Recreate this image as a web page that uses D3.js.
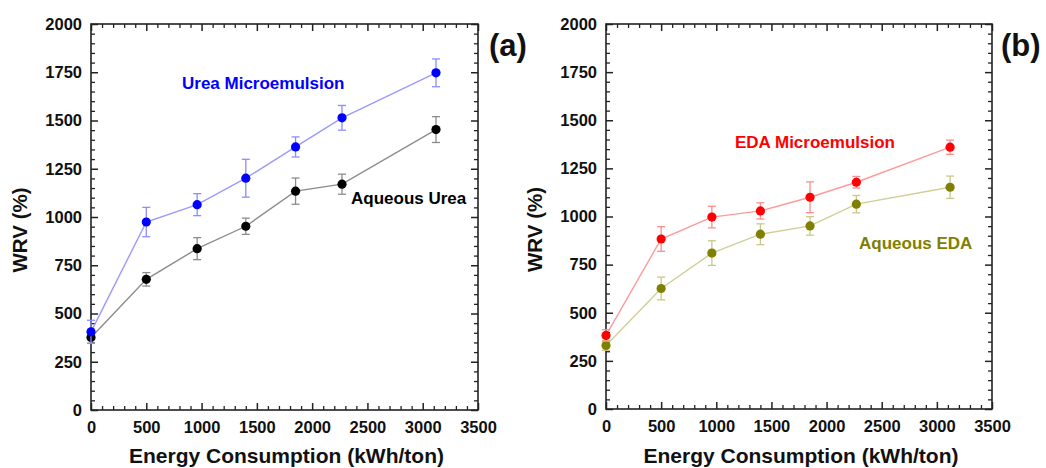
<!DOCTYPE html>
<html>
<head>
<meta charset="utf-8">
<script src="https://cdn.jsdelivr.net/npm/d3@7"></script>
<style>
  body { margin: 0; background: #fff; }
  svg { display: block; font-family: "Liberation Sans", Arial, sans-serif; font-weight: bold; }
</style>
</head>
<body>
<svg id="chart"></svg>
<script>
// energy consumption (kWh/ton) shared by all series
const energy = [0, 500, 960, 1400, 1850, 2270, 3120];

// panel (a) - urea
const ureaMicro = [405, 974, 1064, 1201, 1363, 1514, 1747];
const ureaMicroErr = [60, 76, 57, 98, 52, 64, 72];
const ureaAq = [376, 677, 836, 952, 1134, 1170, 1453];
const ureaAqErr = [30, 35, 57, 42, 68, 52, 67];

// panel (b) - EDA
const edaMicro = [382, 883, 997, 1029, 1100, 1178, 1360];
const edaMicroErr = [30, 64, 56, 42, 80, 30, 37];
const edaAq = [330, 626, 810, 908, 951, 1064, 1152];
const edaAqErr = [25, 59, 64, 54, 48, 45, 58];

const xTicks = [0, 500, 1000, 1500, 2000, 2500, 3000, 3500];
const yTicks = [0, 250, 500, 750, 1000, 1250, 1500, 1750, 2000];

const width = 1046, height = 468;

const svg = d3.select("#chart")
  .attr("width", width)
  .attr("height", height)
  .attr("viewBox", [0, 0, width, height]);

svg.append("rect").attr("width", width).attr("height", height).attr("fill", "#fff");

const panels = [
  {
    left: 91, right: 478, top: 24, bottom: 410, tag: "(a)", tagX: 489,
    series: [
      { name: "Aqueous Urea", y: ureaAq, err: ureaAqErr, dot: "#000000", line: "#8c8c8c", bar: "#8c8c8c", lx: 351, ly: 204 },
      { name: "Urea Microemulsion", y: ureaMicro, err: ureaMicroErr, dot: "#0000ff", line: "#9a9aff", bar: "#8c8cff", lx: 182, ly: 89 }
    ]
  },
  {
    left: 606, right: 992, top: 24, bottom: 409, tag: "(b)", tagX: 1001,
    series: [
      { name: "Aqueous EDA", y: edaAq, err: edaAqErr, dot: "#808000", line: "#cfcf96", bar: "#c8c88a", lx: 859, ly: 249, text: "#808000" },
      { name: "EDA Microemulsion", y: edaMicro, err: edaMicroErr, dot: "#ff0000", line: "#ff9a9a", bar: "#ff8c8c", lx: 735, ly: 148 }
    ]
  }
];

function range(a, b, step) {
  return d3.range(a, b + step / 2, step);
}

panels.forEach(p => {
  const x = d3.scaleLinear().domain([0, 3500]).range([p.left, p.right]);
  const y = d3.scaleLinear().domain([0, 2000]).range([p.bottom, p.top]);

  const xMinor = range(0, 3500, 100).filter(v => v % 500 !== 0);
  const yMinor = range(0, 2000, 50).filter(v => v % 250 !== 0);

  const g = svg.append("g");

  // inward ticks on all four sides
  const axes = [
    { gen: d3.axisBottom, t: `translate(0,${p.bottom})`, s: x, lab: true },
    { gen: d3.axisTop, t: `translate(0,${p.top})`, s: x, lab: false },
    { gen: d3.axisLeft, t: `translate(${p.left},0)`, s: y, lab: true },
    { gen: d3.axisRight, t: `translate(${p.right},0)`, s: y, lab: false }
  ];
  axes.forEach(a => {
    const isX = a.s === x;
    g.append("g")
      .attr("transform", a.t)
      .call(a.gen(a.s).tickValues(isX ? xMinor : yMinor).tickSize(-4).tickFormat(""))
      .call(s => s.select(".domain").remove())
      .call(s => s.selectAll("line").attr("stroke", "#222").attr("stroke-width", 1.3));
    g.append("g")
      .attr("transform", a.t)
      .call(a.gen(a.s).tickValues(isX ? xTicks : yTicks).tickSize(-7)
        .tickPadding(isX ? 11 : 9)
        .tickFormat(a.lab ? d3.format("d") : ""))
      .call(s => s.select(".domain").remove())
      .call(s => s.selectAll("line").attr("stroke", "#222").attr("stroke-width", 1.5))
      .call(s => s.selectAll("text")
        .attr("fill", "#111")
        .attr("font-size", 16.5)
        .attr("font-family", "Liberation Sans, Arial, sans-serif")
        .attr("font-weight", "bold"));
  });

  // frame
  g.append("rect")
    .attr("x", p.left).attr("y", p.top)
    .attr("width", p.right - p.left).attr("height", p.bottom - p.top)
    .attr("fill", "none").attr("stroke", "#222").attr("stroke-width", 1.6);

  const line = d3.line().x((d, i) => x(energy[i])).y(d => y(d));

  p.series.forEach(s => {
    g.append("path")
      .attr("d", line(s.y))
      .attr("fill", "none")
      .attr("stroke", s.line)
      .attr("stroke-width", 1.4);

    const eb = g.append("g").attr("stroke", s.bar).attr("stroke-width", 1.3);
    s.y.forEach((v, i) => {
      const cx = x(energy[i]);
      const y0 = y(v - s.err[i]), y1 = y(v + s.err[i]);
      eb.append("line").attr("x1", cx).attr("x2", cx).attr("y1", y0).attr("y2", y1);
      eb.append("line").attr("x1", cx - 4).attr("x2", cx + 4).attr("y1", y0).attr("y2", y0);
      eb.append("line").attr("x1", cx - 4).attr("x2", cx + 4).attr("y1", y1).attr("y2", y1);
    });

    g.append("g").selectAll("circle")
      .data(s.y)
      .join("circle")
      .attr("cx", (d, i) => x(energy[i]))
      .attr("cy", d => y(d))
      .attr("r", 4.6)
      .attr("fill", s.dot);

    g.append("text")
      .attr("x", s.lx).attr("y", s.ly)
      .attr("fill", s.text || s.dot)
      .attr("font-size", 17)
      .text(s.name);
  });

  // axis titles
  g.append("text")
    .attr("transform", `translate(${p.left - 64},${(p.top + p.bottom) / 2 + 13}) rotate(-90)`)
    .attr("text-anchor", "middle")
    .attr("font-size", 20.5)
    .attr("fill", "#111")
    .text("WRV (%)");

  g.append("text")
    .attr("x", (p.left + p.right) / 2 + 2)
    .attr("y", 463)
    .attr("text-anchor", "middle")
    .attr("font-size", 21)
    .attr("fill", "#111")
    .text("Energy Consumption (kWh/ton)");

  g.append("text")
    .attr("x", p.tagX).attr("y", 56)
    .attr("font-size", 31)
    .attr("fill", "#111")
    .text(p.tag);
});
</script>
</body>
</html>
